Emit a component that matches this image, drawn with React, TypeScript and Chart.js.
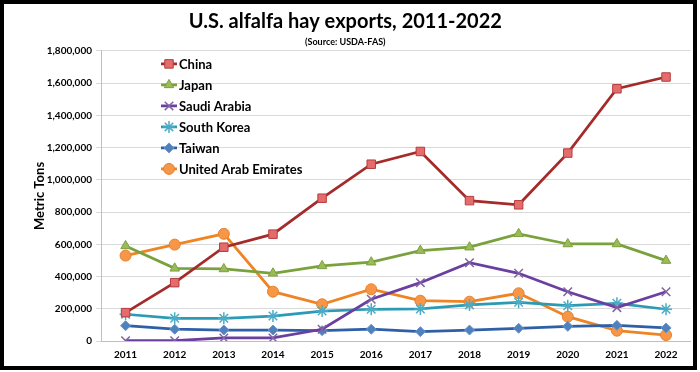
import React, { useEffect, useRef } from 'react';
import { Chart, registerables } from 'chart.js';
import { drawPoint } from 'chart.js/helpers';

Chart.register(...registerables);

const years = ['2011', '2012', '2013', '2014', '2015', '2016', '2017', '2018', '2019', '2020', '2021', '2022'];
const china = [176000, 362000, 582000, 663000, 886000, 1097000, 1176000, 871000, 845000, 1166000, 1565000, 1638000];
const japan = [590000, 451000, 447000, 420000, 466000, 489000, 561000, 582000, 665000, 602000, 602000, 499000];
const saudiArabia = [2000, 2000, 19000, 19000, 73000, 259000, 362000, 486000, 420000, 306000, 207000, 306000];
const southKorea = [166000, 141000, 141000, 155000, 186000, 197000, 199000, 224000, 240000, 219000, 234000, 197000];
const taiwan = [95000, 73000, 68000, 68000, 64000, 73000, 58000, 68000, 79000, 91000, 97000, 81000];
const uae = [530000, 598000, 665000, 306000, 228000, 321000, 250000, 244000, 296000, 151000, 64000, 37000];

const titleText = 'U.S. alfalfa hay exports, 2011-2022';
const subtitleText = '(Source: USDA-FAS)';
const yTitle = 'Metric Tons';

const FONT = 'Lato, "Open Sans", sans-serif';

const legendPlugin = {
  id: 'insideLegend',
  afterDatasetsDraw(chart: any) {
    const ctx = chart.ctx;
    const { left, top } = chart.chartArea;
    ctx.save();
    chart.data.datasets.forEach((ds: any, i: number) => {
      const y = top + 13 + 21 * i;
      const x0 = left + 60;
      const x1 = left + 76;
      ctx.strokeStyle = ds.borderColor;
      ctx.lineWidth = ds.borderWidth;
      ctx.beginPath();
      ctx.moveTo(x0, y);
      ctx.lineTo(x1, y);
      ctx.stroke();
      ctx.fillStyle = ds.pointBackgroundColor;
      ctx.strokeStyle = ds.pointBorderColor;
      ctx.lineWidth = ds.pointBorderWidth;
      drawPoint(ctx, { pointStyle: ds.pointStyle, radius: ds.pointRadius, rotation: 0, borderWidth: ds.pointBorderWidth } as any, (x0 + x1) / 2, y);
      ctx.fillStyle = '#000';
      ctx.font = `bold 13px ${FONT}`;
      ctx.textBaseline = 'middle';
      ctx.textAlign = 'left';
      ctx.fillText(ds.label, x1 + 2, y + 1);
    });
    ctx.restore();
  },
};

function ds(label: string, data: number[], line: string, fill: string, border: string, style: string, radius: number, bw: number) {
  return {
    label,
    data,
    borderColor: line,
    borderWidth: 2.75,
    backgroundColor: fill,
    pointBackgroundColor: fill,
    pointBorderColor: border,
    pointBorderWidth: bw,
    pointStyle: style,
    pointRadius: radius,
    tension: 0,
    fill: false,
  };
}

export default function App() {
  const ref = useRef<HTMLCanvasElement>(null);
  useEffect(() => {
    if (!ref.current) return;
    const chart = new Chart(ref.current, {
      type: 'line',
      data: {
        labels: years,
        datasets: [
          ds('China', china, '#A52A2A', '#E46C6C', '#B53C3C', 'rect', 6, 1),
          ds('Japan', japan, '#7AA23C', '#9BBB59', '#7E9F3E', 'triangle', 5.5, 1),
          ds('Saudi Arabia', saudiArabia, '#6B3FA0', '#8064A2', '#8064A2', 'crossRot', 6, 1.5),
          ds('South Korea', southKorea, '#2A9AB5', '#4BACC6', '#4BACC6', 'star', 6, 1.5),
          ds('Taiwan', taiwan, '#2F5FA6', '#4F81BD', '#6A95CC', 'rectRot', 5, 1),
          ds('United Arab Emirates', uae, '#EE8424', '#F79646', '#E4812F', 'circle', 5.5, 1),
        ] as any,
      },
      options: {
        responsive: false,
        animation: false,
        layout: { padding: { left: 0, right: 9.4, top: 0, bottom: 0 } },
        plugins: {
          legend: { display: false },
          tooltip: { enabled: false },
          title: {
            display: true,
            text: titleText,
            color: '#000',
            font: { family: FONT, size: 20, weight: 'bold', lineHeight: 1.2 },
            padding: { top: 9.5, bottom: 0 },
          },
          subtitle: {
            display: true,
            text: subtitleText,
            color: '#000',
            font: { family: FONT, size: 9, weight: 'bold', lineHeight: 1.2 },
            padding: { top: 3, bottom: 3.6 },
          },
        },
        scales: {
          x: {
            offset: true,
            afterFit: (s: any) => {
              s.height = 31;
            },
            grid: { display: false, drawTicks: false },
            border: { display: true, color: '#bfbfbf', width: 1 },
            ticks: {
              color: '#000',
              font: { family: FONT, size: 10, weight: 'bold' },
              padding: 8,
              maxRotation: 0,
              autoSkip: false,
            },
          },
          y: {
            min: 0,
            max: 1800000,
            afterFit: (s: any) => {
              s.width = 101;
            },
            ticks: {
              stepSize: 200000,
              color: '#000',
              font: { family: FONT, size: 10, weight: 'bold' },
              padding: 4,
              callback: (v: any) => Number(v).toLocaleString('en-US'),
            },
            grid: { color: '#d9d9d9', lineWidth: 1, tickLength: 5 },
            border: { display: true, color: '#bfbfbf' },
            title: {
              display: true,
              text: yTitle,
              color: '#000',
              font: { family: FONT, size: 13, weight: 'bold', lineHeight: 1.2 },
              padding: { top: 32, bottom: 0 },
            },
          },
        },
      } as any,
      plugins: [legendPlugin],
    });
    return () => chart.destroy();
  }, []);

  return (
    <div style={{ position: 'fixed', left: 0, top: 0, width: 700, height: 372, background: '#fff' }}>
      <canvas ref={ref} width={700} height={372} style={{ display: 'block', position: 'absolute', left: 0, top: 0 }} />
      <div
        style={{
          position: 'absolute',
          left: 0,
          top: 0,
          width: 697,
          height: 370,
          boxSizing: 'border-box',
          border: '4px solid #000',
          pointerEvents: 'none',
        }}
      />
    </div>
  );
}
